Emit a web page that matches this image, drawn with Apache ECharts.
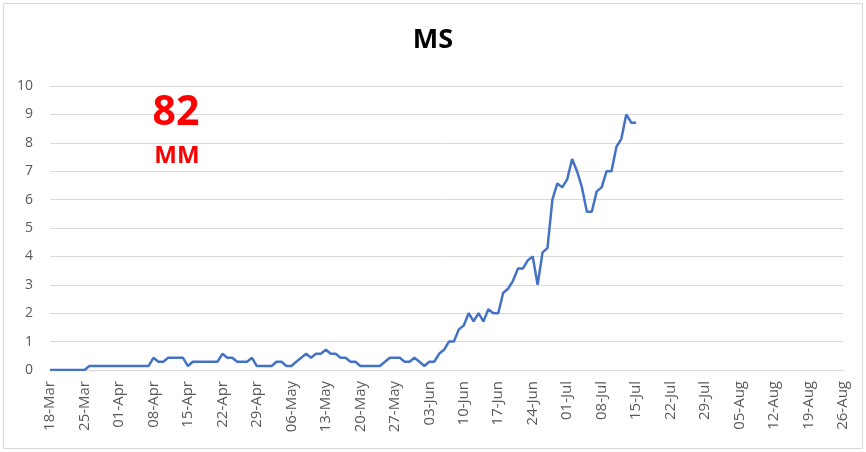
<!DOCTYPE html>
<html>
<head>
<meta charset="utf-8">
<script src="https://cdn.jsdelivr.net/npm/echarts@6/dist/echarts.min.js"></script>
<style>
  html, body { margin: 0; padding: 0; background: #fff; }
  #chart { width: 866px; height: 452px; }
</style>
</head>
<body>
<div id="chart"></div>
<script>
// daily categories, 18-Mar to 26-Aug
const startDate = new Date(2020, 2, 18);
const dayCount = 162;
const monthNames = ["Jan", "Feb", "Mar", "Apr", "May", "Jun", "Jul", "Aug", "Sep", "Oct", "Nov", "Dec"];
const days = [];
for (let i = 0; i < dayCount; i++) {
  const d = new Date(startDate.getFullYear(), startDate.getMonth(), startDate.getDate() + i);
  days.push(String(d.getDate()).padStart(2, "0") + "-" + monthNames[d.getMonth()]);
}

// values, one per day from 18-Mar
const msValues = [
  0, 0, 0, 0, 0, 0, 0, 0,
  0.14, 0.14, 0.14, 0.14, 0.14, 0.14, 0.14, 0.14, 0.14, 0.14, 0.14, 0.14, 0.14,
  0.43, 0.29, 0.29, 0.43, 0.43, 0.43, 0.43,
  0.14, 0.29, 0.29, 0.29, 0.29, 0.29, 0.29,
  0.57, 0.43, 0.43, 0.29, 0.29, 0.29, 0.43,
  0.14, 0.14, 0.14, 0.14, 0.29, 0.29, 0.14, 0.14,
  0.29, 0.43, 0.57, 0.43, 0.57, 0.57, 0.71, 0.57, 0.57,
  0.43, 0.43, 0.29, 0.29,
  0.14, 0.14, 0.14, 0.14, 0.14,
  0.29, 0.43, 0.43, 0.43, 0.29, 0.29, 0.43, 0.29, 0.14,
  0.29, 0.29, 0.57, 0.71, 1.0, 1.0,
  1.43, 1.57, 2.0, 1.71, 2.0, 1.71, 2.14, 2.0, 2.0,
  2.71, 2.86, 3.14, 3.57, 3.57, 3.86, 4.0, 3.0, 4.14, 4.29,
  6.0, 6.57, 6.43, 6.71, 7.43, 7.0, 6.43, 5.57, 5.57,
  6.29, 6.43, 7.0, 7.0, 7.86, 8.14, 9.0, 8.71, 8.71
];

const yTicks = [0, 1, 2, 3, 4, 5, 6, 7, 8, 9, 10];

const chart = echarts.init(document.getElementById("chart"));

chart.setOption({
  animation: false,
  title: {
    text: "MS",
    left: "center",
    top: 22,
    textStyle: { fontFamily: "Open Sans", fontWeight: "bold", fontSize: 27, color: "#000" },
  },
  grid: { left: 50, right: 23, top: 86, bottom: 82 },
  xAxis: {
    type: "category",
    data: days,
    boundaryGap: false,
    axisLine: { lineStyle: { color: "#d9d9d9" } },
    axisTick: { show: false },
    axisLabel: {
      interval: (i) => i % 7 === 0,
      rotate: 90,
      margin: 11,
      color: "#595959",
      fontFamily: "Open Sans",
      fontSize: 15,
    },
  },
  yAxis: {
    type: "value",
    min: yTicks[0],
    max: yTicks[yTicks.length - 1],
    interval: 1,
    axisLine: { show: false },
    axisTick: { show: false },
    axisLabel: { color: "#595959", fontFamily: "Open Sans", fontSize: 14, margin: 17 },
    splitLine: { lineStyle: { color: "#d9d9d9" } },
  },
  series: [
    {
      name: "MS",
      type: "line",
      data: msValues,
      showSymbol: false,
      lineStyle: { color: "#4472c4", width: 2.5 },
    },
  ],
  graphic: [
    {
      type: "rect",
      shape: { x: 3.5, y: 3.5, width: 859, height: 445 },
      style: { fill: "none", stroke: "#d9d9d9", lineWidth: 1 },
      silent: true,
    },
    {
      type: "text",
      x: 176,
      y: 113,
      z: 100,
      style: {
        text: "82",
        fill: "#ff0000",
        font: "bold 41px 'Open Sans'",
        textAlign: "center",
        textVerticalAlign: "middle",
      },
    },
    {
      type: "text",
      x: 177,
      y: 156,
      z: 100,
      style: {
        text: "MM",
        fill: "#ff0000",
        font: "bold 24px 'Open Sans'",
        textAlign: "center",
        textVerticalAlign: "middle",
      },
    },
  ],
});
</script>
</body>
</html>
